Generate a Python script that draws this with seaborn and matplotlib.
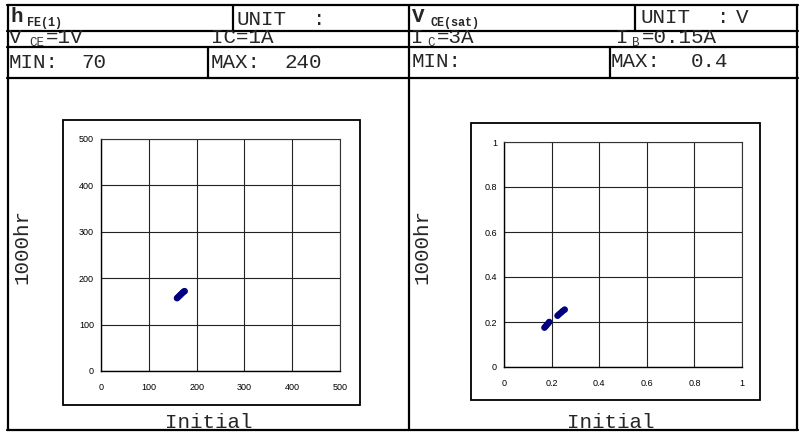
import matplotlib
matplotlib.use("Agg")
import matplotlib.pyplot as plt
import seaborn as sns
from matplotlib.patches import Rectangle
from matplotlib.lines import Line2D

# hFE(1): initial vs 1000hr
hfe_init = [159, 161, 163, 165, 167, 169, 171, 173, 175]
hfe_1000 = [157, 159, 161, 163, 165, 167, 169, 171, 172]
hfe_ticks = [0, 100, 200, 300, 400, 500]

# VCE(sat): initial vs 1000hr
vce_init = [0.170, 0.175, 0.180, 0.185, 0.190, 0.225, 0.232, 0.240, 0.247, 0.255]
vce_1000 = [0.175, 0.181, 0.187, 0.193, 0.200, 0.228, 0.235, 0.242, 0.249, 0.255]
vce_ticks = [0, 0.2, 0.4, 0.6, 0.8, 1]
vce_ticklabels = ["0", "0.2", "0.4", "0.6", "0.8", "1"]

W, H = 800, 433
MONO = "Liberation Mono"
SANS = "Liberation Sans"
NAVY = "#000080"

sns.set_style("white")
fig = plt.figure(figsize=(W / 100, H / 100), dpi=100)
fig.patch.set_facecolor("white")


def fx(x):
    return x / W


def fy(y):
    return 1 - y / H


def hline(y, x0, x1, lw=1.6):
    fig.add_artist(Line2D([fx(x0), fx(x1)], [fy(y), fy(y)], color="black", lw=lw))


def vline(x, y0, y1, lw=1.6):
    fig.add_artist(Line2D([fx(x), fx(x)], [fy(y0), fy(y1)], color="black", lw=lw))


def txt(x, y, s, size=15, weight="normal", **kw):
    fig.text(fx(x), fy(y), s, fontsize=size, fontweight=weight, family=MONO,
             ha="left", va="baseline", **kw)


# table grid
for y in [5, 31, 47, 78, 430]:
    hline(y, 7, 798)
for x in [8, 409, 797]:
    vline(x, 5, 430)
vline(233, 5, 31)
vline(208, 47, 78)
vline(635, 5, 31)
vline(610, 47, 78)

# left header
txt(10, 22, "h", weight="bold")
txt(27, 26, "FE(1)", size=8.5, weight="bold")
txt(237, 25, "UNIT")
txt(313, 25, ":")
txt(9, 43, "V")
txt(29, 46, "CE", size=9, color="#333333")
txt(46, 43, "=1V")
txt(211, 43, "IC=1A")
txt(9, 68, "MIN:")
txt(81, 68, "70")
txt(211, 68, "MAX:")
txt(284, 68, "240")

# right header
txt(412, 22, "V", weight="bold")
txt(431, 26, "CE(sat)", size=8.5, weight="bold")
txt(640, 23, "UNIT")
txt(717, 23, ":")
txt(736, 23, "V")
txt(411, 43, "I")
txt(427, 46, "C", size=9, color="#333333")
txt(437, 43, "=3A")
txt(616, 43, "I")
txt(632, 46, "B", size=9, color="#333333")
txt(642, 43, "=0.15A")
txt(412, 67, "MIN:")
txt(611, 67, "MAX:")
txt(691, 67, "0.4")

# chart frames
for (x0, y0, x1, y1) in [(63, 120, 360, 405), (471, 123, 760, 400)]:
    fig.add_artist(Rectangle((fx(x0), fy(y1)), fx(x1 - x0), (y1 - y0) / H,
                             fill=False, ec="black", lw=1.3))


def make_ax(x0, y0, x1, y1):
    ax = fig.add_axes([fx(x0), fy(y1), fx(x1 - x0), (y1 - y0) / H])
    ax.set_facecolor("white")
    for side in ["top", "right"]:
        ax.spines[side].set_color("#333333")
        ax.spines[side].set_linewidth(0.8)
    for side in ["left", "bottom"]:
        ax.spines[side].set_color("black")
        ax.spines[side].set_linewidth(1.0)
    ax.grid(True, color="#222222", lw=0.8)
    ax.set_axisbelow(True)
    ax.tick_params(axis="both", direction="out", length=2, width=0.8,
                   labelsize=6.5, colors="black")
    ax.tick_params(axis="x", pad=7)
    ax.tick_params(axis="y", pad=5, length=0)
    return ax


ax1 = make_ax(101, 139, 340, 371)
sns.scatterplot(x=hfe_init, y=hfe_1000, ax=ax1, color=NAVY, marker="o",
                s=22, edgecolor="none", legend=False)
ax1.set_xlim(0, 500)
ax1.set_ylim(0, 500)
ax1.set_xticks(hfe_ticks)
ax1.set_yticks(hfe_ticks)
ax1.set_xticklabels([str(t) for t in hfe_ticks], family=SANS)
ax1.set_yticklabels([str(t) for t in hfe_ticks], family=SANS)
ax1.set_xlabel("")
ax1.set_ylabel("")

ax2 = make_ax(504, 142, 742, 367)
sns.scatterplot(x=vce_init, y=vce_1000, ax=ax2, color=NAVY, marker="o",
                s=22, edgecolor="none", legend=False)
ax2.set_xlim(0, 1)
ax2.set_ylim(0, 1)
ax2.set_xticks(vce_ticks)
ax2.set_yticks(vce_ticks)
ax2.set_xticklabels(vce_ticklabels, family=SANS)
ax2.set_yticklabels(vce_ticklabels, family=SANS)
ax2.set_xlabel("")
ax2.set_ylabel("")

# axis titles
for cx in [22, 422]:
    fig.text(fx(cx), fy(246), "1000hr", fontsize=15, family=MONO, rotation=90,
             ha="center", va="center")
for cx in [209, 611]:
    fig.text(fx(cx), fy(428), "Initial", fontsize=15, family=MONO,
             ha="center", va="baseline")

fig.savefig("out.png", dpi=100)
